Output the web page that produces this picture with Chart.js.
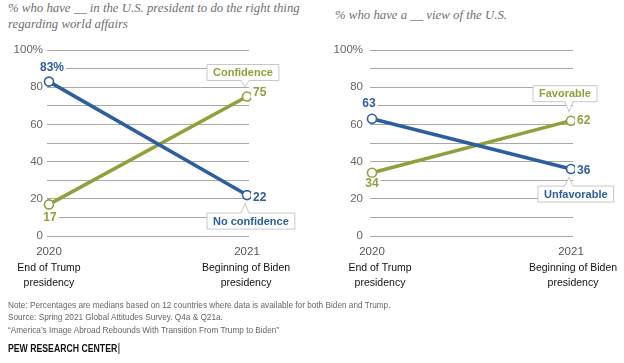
<!DOCTYPE html>
<html>
<head>
<meta charset="utf-8">
<script src="https://cdn.jsdelivr.net/npm/chart.js@4/dist/chart.umd.min.js"></script>
<style>
  body { margin: 0; background: #fff; width: 624px; height: 363px; position: relative; overflow: hidden; font-family: "Liberation Sans", Arial, sans-serif; }
  canvas { position: absolute; top: 0; }
  .title { position: absolute; font-family: "Liberation Serif", "DejaVu Serif", serif; font-style: italic; font-size: 12.8px; line-height: 16px; color: #707070; }
  .foot { position: absolute; left: 8px; top: 299px; font-size: 9.8px; line-height: 12.4px; color: #666; white-space: nowrap; transform: scaleX(0.84); transform-origin: 0 0; }
  .pew { position: absolute; left: 8px; top: 343px; font-weight: bold; font-size: 10px; color: #111; white-space: nowrap; transform: scaleX(0.87); transform-origin: 0 0; }
  .pew span { display: inline-block; width: 1px; height: 11px; background: #111; vertical-align: -2px; margin-left: 1px; }
</style>
</head>
<body>
<div class="title" style="left:8px; top:0px;">% who have __ in the U.S. president to do the right thing<br>regarding world affairs</div>
<div class="title" style="left:335px; top:7px;">% who have a __ view of the U.S.</div>
<canvas id="left" width="312" height="300" style="left:0px"></canvas>
<canvas id="right" width="312" height="300" style="left:312px"></canvas>
<div class="foot">Note: Percentages are medians based on 12 countries where data is available for both Biden and Trump.<br>Source: Spring 2021 Global Attitudes Survey. Q4a &amp; Q21a.<br>“America’s Image Abroad Rebounds With Transition From Trump to Biden”</div>
<div class="pew">PEW RESEARCH CENTER<span></span></div>
<script>
// data
const years = ['2020', '2021'];
const periods = [['End of Trump', 'presidency'], ['Beginning of Biden', 'presidency']];
const confidence = [17, 75];
const noConfidence = [83, 22];
const favorable = [34, 62];
const unfavorable = [63, 36];

const BLUE = '#2d5e9e';
const GREEN = '#8ea13a';

function textWithBg(ctx, text, x, y, align, color) {
  ctx.font = 'bold 12px "Liberation Sans", Arial, sans-serif';
  const w = ctx.measureText(text).width;
  const left = align === 'center' ? x - w / 2 : x;
  ctx.fillStyle = '#fff';
  ctx.fillRect(left - 2, y - 6, w + 4, 12);
  ctx.fillStyle = color;
  ctx.textAlign = align;
  ctx.textBaseline = 'middle';
  ctx.fillText(text, x, y);
}

function callout(ctx, text, px, py, c, color) {
  ctx.font = 'bold 11px "Liberation Sans", Arial, sans-serif';
  const w = ctx.measureText(text).width + 12;
  const h = 16;
  const left = px + c.dx;
  const top = py + c.dy;
  const bx = px - 2;
  ctx.beginPath();
  if (c.dy < 0) {
    const tip = py - 9;
    ctx.moveTo(left, top);
    ctx.lineTo(left + w, top);
    ctx.lineTo(left + w, top + h);
    ctx.lineTo(bx + 4, top + h);
    ctx.lineTo(bx, tip);
    ctx.lineTo(bx - 4, top + h);
    ctx.lineTo(left, top + h);
  } else {
    const tip = py + 8;
    ctx.moveTo(left, top);
    ctx.lineTo(bx - 4, top);
    ctx.lineTo(bx, tip);
    ctx.lineTo(bx + 4, top);
    ctx.lineTo(left + w, top);
    ctx.lineTo(left + w, top + h);
    ctx.lineTo(left, top + h);
  }
  ctx.closePath();
  ctx.fillStyle = '#fff';
  ctx.fill();
  ctx.strokeStyle = '#c8c8c8';
  ctx.lineWidth = 1;
  ctx.stroke();
  ctx.fillStyle = color;
  ctx.textAlign = 'center';
  ctx.textBaseline = 'middle';
  ctx.fillText(text, left + w / 2, top + h / 2 + 0.5);
}

const labelPlugin = {
  id: 'labels',
  afterDraw(chart, args, opts) {
    const ctx = chart.ctx;
    ctx.save();
    chart.data.datasets.forEach((ds, i) => {
      const s = opts.series[i];
      const pts = chart.getDatasetMeta(i).data;
      const first = ds.data[0].y + (s.pct ? '%' : '');
      textWithBg(ctx, first, pts[0].x + s.first[0], pts[0].y + s.first[1], 'center', ds.borderColor);
      textWithBg(ctx, String(ds.data[1].y), pts[1].x + 6, pts[1].y + s.lastDy, 'left', ds.borderColor);
      callout(ctx, ds.label, pts[1].x, pts[1].y, s.box, ds.borderColor);
    });
    const x = chart.scales.x;
    ctx.font = '10.5px "Liberation Sans", Arial, sans-serif';
    ctx.fillStyle = '#111';
    ctx.textAlign = 'center';
    ctx.textBaseline = 'middle';
    periods.forEach((lines, i) => {
      const cx = x.getPixelForValue(i) + opts.periodDx[i];
      lines.forEach((t, j) => ctx.fillText(t, cx, 268 + j * 15));
    });
    ctx.restore();
  }
};

function makeChart(id, sets, yWidth, padRight, tickPad, labelOpts) {
  return new Chart(document.getElementById(id), {
    type: 'line',
    data: {
      datasets: sets.map(s => ({
        label: s.label,
        data: s.values.map((v, i) => ({ x: i, y: v })),
        borderColor: s.color,
        backgroundColor: '#fff',
        borderWidth: 3.5,
        pointRadius: 4.5,
        pointBorderWidth: 1.6,
        pointBackgroundColor: '#fff',
        pointBorderColor: s.color,
        tension: 0,
        clip: false
      }))
    },
    options: {
      responsive: false,
      animation: false,
      devicePixelRatio: 1,
      layout: { padding: { left: 0, right: padRight, top: 50, bottom: 0 } },
      plugins: { legend: { display: false }, tooltip: { enabled: false }, labels: labelOpts },
      scales: {
        x: {
          type: 'linear', min: -0.01, max: 1.01,
          afterBuildTicks: sc => { sc.ticks = [{ value: 0 }, { value: 1 }]; },
          afterFit: sc => { sc.height = 64; },
          grid: { display: false, drawTicks: false },
          border: { display: false },
          ticks: {
            padding: 9, color: '#555', maxRotation: 0,
            font: { size: 11.5, family: '"Liberation Sans", Arial, sans-serif' },
            callback: v => years[v]
          }
        },
        y: {
          min: 0, max: 100,
          afterFit: sc => { sc.width = yWidth; },
          grid: { color: '#a8a8a8', lineWidth: 1, drawTicks: false },
          border: { display: false },
          ticks: {
            stepSize: 10, padding: tickPad, color: '#666',
            font: { size: 11.5, family: '"Liberation Sans", Arial, sans-serif' },
            callback: v => v % 20 === 0 ? (v === 100 ? '100%' : v) : ''
          }
        }
      }
    },
    plugins: [labelPlugin]
  });
}

makeChart('left', [
  { label: 'No confidence', values: noConfidence, color: BLUE },
  { label: 'Confidence', values: confidence, color: GREEN }
], 47, 63, 4, {
  series: [
    { pct: true, first: [3, -14], lastDy: 3, box: { dx: -40, dy: 18 } },
    { pct: false, first: [1, 13], lastDy: -4, box: { dx: -40, dy: -32 } }
  ],
  periodDx: [0, -1]
});

makeChart('right', [
  { label: 'Unfavorable', values: unfavorable, color: BLUE },
  { label: 'Favorable', values: favorable, color: GREEN }
], 58, 51, 7, {
  series: [
    { pct: false, first: [-3, -15], lastDy: 2, box: { dx: -33, dy: 17 } },
    { pct: false, first: [0, 11], lastDy: 0, box: { dx: -38, dy: -35 } }
  ],
  periodDx: [8, 2]
});
</script>
</body>
</html>
